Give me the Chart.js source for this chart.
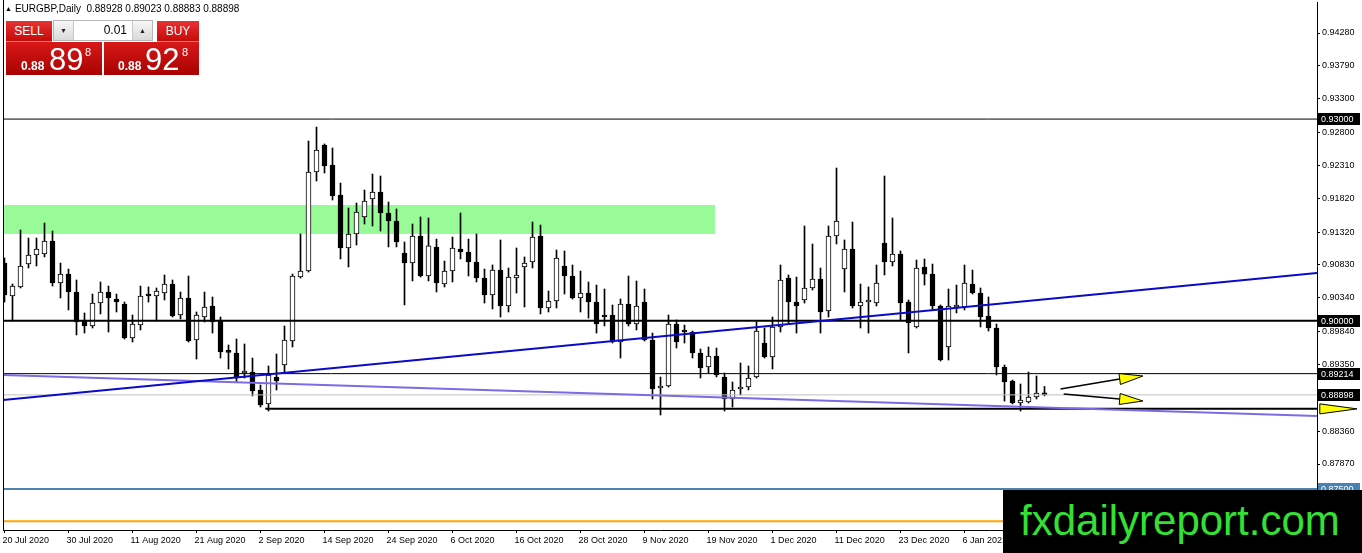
<!DOCTYPE html>
<html>
<head>
<meta charset="utf-8">
<script src="https://cdn.jsdelivr.net/npm/chart.js@4.4.0/dist/chart.umd.min.js"></script>
<style>
html, body { margin: 0; padding: 0; background: #fff; }
#wrap { position: relative; width: 1362px; height: 553px; overflow: hidden; font-family: 'Liberation Sans', Arial, sans-serif; }
#c { position: absolute; left: 0; top: 0; }
#hdr { position: absolute; left: 5px; top: 4px; font-size: 10px; line-height: 10px; color: #000; white-space: nowrap; }
#hdr .tri { font-size: 7px; margin-right: 3px; vertical-align: 1px; }
.btn { position: absolute; top: 21px; height: 20px; background: linear-gradient(#e83232, #c60a0a); color: #fff; font-size: 12px; line-height: 20px; text-align: center; border-bottom: 1px solid #f07a7a; }
#sell { left: 6px; width: 46px; }
#buy { left: 157px; width: 42px; }
#lot { position: absolute; left: 53px; top: 20px; width: 100px; height: 21px; background: #fff; border: 1px solid #b8b8b8; box-sizing: border-box; }
#lot .ar { position: absolute; top: 0; width: 19px; height: 19px; background: linear-gradient(#f6f6f6, #dadada); font-size: 7px; line-height: 19px; text-align: center; color: #222; }
#lot .dn { left: 0; border-right: 1px solid #c8c8c8; }
#lot .up { right: 0; border-left: 1px solid #c8c8c8; }
#lot .val { position: absolute; right: 25px; top: 0; font-size: 12px; line-height: 19px; color: #000; }
.px { position: absolute; top: 42px; height: 33px; background: linear-gradient(#d81818, #a80202); color: #fff; }
#sellpx { left: 6px; width: 96px; }
#buypx { left: 104px; width: 95px; }
.px span { position: absolute; line-height: 1; white-space: nowrap; }
.px .s { font-size: 12px; font-weight: bold; top: 18px; }
.px .b { font-size: 31px; top: 2px; }
.px .sup { font-size: 11px; top: 5px; }
#mark { position: absolute; left: 1003px; top: 490px; width: 359px; height: 63px; background: #000; }
#mark span { position: absolute; left: 17px; top: 10px; font-size: 42px; line-height: 1; color: #33e033; white-space: nowrap; }
</style>
</head>
<body>
<div id="wrap">
  <canvas id="c" width="1362" height="553"></canvas>
  <div id="hdr"><span class="tri">▲</span>EURGBP,Daily&nbsp; 0.88928 0.89023 0.88883 0.88898</div>
  <div class="btn" id="sell">SELL</div>
  <div id="lot"><div class="ar dn">▼</div><div class="val">0.01</div><div class="ar up">▲</div></div>
  <div class="btn" id="buy">BUY</div>
  <div class="px" id="sellpx"><span class="s" style="left:15px">0.88</span><span class="b" style="left:43px">89</span><span class="sup" style="left:79px">8</span></div>
  <div class="px" id="buypx"><span class="s" style="left:14px">0.88</span><span class="b" style="left:41px">92</span><span class="sup" style="left:78px">8</span></div>
  <div id="mark"><span>fxdailyreport.com</span></div>
</div>
<script>
// EURGBP daily, 20 Jul 2020 .. 20 Jan 2021 (one entry per bar)
const opens = [
  0.90859, 0.90369, 0.90503, 0.90844, 0.90979, 0.90993, 0.91187, 0.90562, 0.90695, 0.90428,
  0.89997, 0.89923, 0.90264, 0.90428, 0.90324, 0.90249, 0.89744, 0.89937, 0.90384, 0.90369,
  0.90413, 0.90547, 0.90086, 0.90339, 0.89714, 0.90056, 0.90220, 0.90012, 0.89536, 0.89521,
  0.89223, 0.89238, 0.88971, 0.88763, 0.89164, 0.89342, 0.89699, 0.90651, 0.90740, 0.92213,
  0.92615, 0.92317, 0.91871, 0.91083, 0.91291, 0.91544, 0.91811, 0.91915, 0.91603, 0.91484,
  0.91008, 0.90859, 0.91261, 0.90666, 0.91098, 0.90547, 0.90740, 0.91068, 0.91023, 0.90874,
  0.90636, 0.90384, 0.90755, 0.90220, 0.90636, 0.90800, 0.90874, 0.91261, 0.90190, 0.90294,
  0.90815, 0.90666, 0.90339, 0.90413, 0.90279, 0.90086, 0.90086, 0.89684, 0.90249, 0.89952,
  0.90279, 0.89714, 0.89001, 0.89030, 0.89952, 0.89848, 0.89833, 0.89521, 0.89313, 0.89476,
  0.89164, 0.88837, 0.88986, 0.89015, 0.89164, 0.89669, 0.89461, 0.89908, 0.90636, 0.90279,
  0.90309, 0.90488, 0.90621, 0.90146, 0.91261, 0.90770, 0.91068, 0.90220, 0.90279, 0.90264,
  0.91157, 0.90874, 0.90993, 0.90279, 0.89908, 0.90800, 0.90695, 0.90220, 0.89610, 0.90205,
  0.90205, 0.90547, 0.90413, 0.90071, 0.89893, 0.89313, 0.89105, 0.88778, 0.88792, 0.88867,
  0.88928
];
const highs = [
  0.90934, 0.90547, 0.91350, 0.91231, 0.91231, 0.91454, 0.91335, 0.90859, 0.90770, 0.90607,
  0.90116, 0.90398, 0.90577, 0.90517, 0.90398, 0.90279, 0.90086, 0.90517, 0.90503, 0.90488,
  0.90681, 0.90607, 0.90428, 0.90666, 0.90131, 0.90428, 0.90354, 0.90056, 0.89640, 0.89729,
  0.89655, 0.89446, 0.89045, 0.89328, 0.89506, 0.89923, 0.90695, 0.91291, 0.92674, 0.92882,
  0.92630, 0.92570, 0.92049, 0.91677, 0.91752, 0.91945, 0.92183, 0.92153, 0.91767, 0.91663,
  0.91172, 0.91439, 0.91544, 0.91529, 0.91216, 0.90889, 0.91246, 0.91603, 0.91216, 0.91291,
  0.90770, 0.90830, 0.91202, 0.90785, 0.91083, 0.90949, 0.91469, 0.91424, 0.90443, 0.91053,
  0.91038, 0.90830, 0.90740, 0.90577, 0.90532, 0.90473, 0.90235, 0.90324, 0.90666, 0.90592,
  0.90473, 0.89818, 0.89164, 0.90086, 0.90012, 0.89937, 0.89848, 0.89581, 0.89610, 0.89595,
  0.89223, 0.89090, 0.89372, 0.89328, 0.89982, 0.89893, 0.90056, 0.90830, 0.90681, 0.90651,
  0.91410, 0.91142, 0.90785, 0.91410, 0.92272, 0.91202, 0.91469, 0.90547, 0.90503, 0.90830,
  0.92153, 0.91529, 0.91038, 0.90309, 0.90904, 0.90919, 0.90844, 0.90235, 0.90473, 0.90532,
  0.90830, 0.90755, 0.90488, 0.90354, 0.89952, 0.89342, 0.89119, 0.89060, 0.89238, 0.89179,
  0.89023
];
const lows = [
  0.90279, 0.89997, 0.90488, 0.90785, 0.90815, 0.90949, 0.90517, 0.90339, 0.90161, 0.89789,
  0.89818, 0.89893, 0.90101, 0.89833, 0.90131, 0.89729, 0.89684, 0.89863, 0.90279, 0.89997,
  0.90309, 0.90056, 0.90027, 0.89684, 0.89431, 0.89982, 0.89818, 0.89446, 0.89283, 0.89090,
  0.89149, 0.88882, 0.88718, 0.88658, 0.88971, 0.89238, 0.89610, 0.90636, 0.90725, 0.92079,
  0.92198, 0.91796, 0.90919, 0.90800, 0.91127, 0.91439, 0.91410, 0.91335, 0.91098, 0.91098,
  0.90235, 0.90592, 0.90651, 0.90592, 0.90428, 0.90503, 0.90577, 0.90919, 0.90666, 0.90577,
  0.90264, 0.90176, 0.90056, 0.90131, 0.90413, 0.90205, 0.90785, 0.90101, 0.90131, 0.90190,
  0.90398, 0.90324, 0.90131, 0.90041, 0.89818, 0.89923, 0.89669, 0.89446, 0.89923, 0.89863,
  0.89699, 0.88837, 0.88599, 0.89015, 0.89595, 0.89669, 0.89446, 0.89149, 0.89223, 0.89164,
  0.88658, 0.88718, 0.88897, 0.88971, 0.89149, 0.89446, 0.89283, 0.89833, 0.89967, 0.89818,
  0.90264, 0.90458, 0.89818, 0.90056, 0.91142, 0.90428, 0.90190, 0.89893, 0.89818, 0.90220,
  0.90681, 0.90815, 0.90012, 0.89521, 0.89893, 0.90532, 0.90161, 0.89402, 0.89417, 0.90116,
  0.90161, 0.90398, 0.89908, 0.89848, 0.89194, 0.88807, 0.88763, 0.88658, 0.88778, 0.88837,
  0.88883
];
const closes = [
  0.90384, 0.90517, 0.90815, 0.90979, 0.91068, 0.91187, 0.90562, 0.90695, 0.90428, 0.89982,
  0.89923, 0.90264, 0.90428, 0.90339, 0.90279, 0.89744, 0.89952, 0.90369, 0.90369, 0.90443,
  0.90547, 0.90071, 0.90339, 0.89699, 0.90086, 0.90205, 0.89982, 0.89536, 0.89530, 0.89149,
  0.89253, 0.88956, 0.88748, 0.89194, 0.89105, 0.89714, 0.90666, 0.90740, 0.92213, 0.92540,
  0.92302, 0.91856, 0.91083, 0.91291, 0.91618, 0.91782, 0.91915, 0.91603, 0.91484, 0.91172,
  0.90859, 0.91261, 0.90666, 0.91113, 0.90562, 0.90740, 0.91083, 0.91023, 0.90874, 0.90636,
  0.90384, 0.90755, 0.90220, 0.90651, 0.90681, 0.90859, 0.91246, 0.90190, 0.90294, 0.90934,
  0.90666, 0.90339, 0.90413, 0.90279, 0.89952, 0.90056, 0.89684, 0.90249, 0.89952, 0.90220,
  0.89714, 0.88986, 0.89030, 0.89952, 0.89684, 0.89833, 0.89521, 0.89298, 0.89476, 0.89194,
  0.88837, 0.88971, 0.89001, 0.89149, 0.89848, 0.89461, 0.89908, 0.90607, 0.90279, 0.90220,
  0.90488, 0.90621, 0.90131, 0.91261, 0.91484, 0.91068, 0.90220, 0.90279, 0.90284, 0.90562,
  0.90874, 0.90993, 0.90264, 0.89967, 0.90785, 0.90695, 0.90220, 0.89417, 0.90220, 0.90235,
  0.90562, 0.90413, 0.90056, 0.89893, 0.89313, 0.89090, 0.88778, 0.88822, 0.88867, 0.88926,
  0.88898
];

// axis labels
const xTickLabels = ['20 Jul 2020', '30 Jul 2020', '11 Aug 2020', '21 Aug 2020', '2 Sep 2020', '14 Sep 2020',
  '24 Sep 2020', '6 Oct 2020', '16 Oct 2020', '28 Oct 2020', '9 Nov 2020', '19 Nov 2020', '1 Dec 2020',
  '11 Dec 2020', '23 Dec 2020', '6 Jan 2021', '18 Jan 2021'];
const xTickBars = [0, 8, 16, 24, 32, 40, 48, 56, 64, 72, 80, 88, 96, 104, 112, 120, 128];
const yTicks = [0.94280, 0.93790, 0.93300, 0.92800, 0.92310, 0.91820, 0.91320, 0.90830,
  0.90340, 0.89840, 0.89350, 0.88360, 0.87870];

// drawn objects (price levels, trend lines, zone, arrows)
const levelPrices = [0.93000, 0.90000, 0.89214, 0.88898, 0.87500, 0.87020];
const tagPrices = [0.93000, 0.90000, 0.89214, 0.88898, 0.87500];
const supportLine = [32.6, 0.88690];          // start bar, price
const blueTrend = [0.88822, 0.90711];         // price at left edge, right edge
const purpleTrend = [0.89194, 0.88584];
const zoneBand = [0.91291, 0.91722];
const zoneEndBar = 88.8;
const arrowUp = [[132.0, 0.88986], [139.4, 0.89134], [142.3, 0.89179]];   // start, head base, tip
const arrowDown = [[132.4, 0.88912], [139.4, 0.88837], [142.3, 0.88807]];

const X_MIN = -0.1875, X_MAX = 164.0625;
const Y_MIN = 0.868886, Y_MAX = 0.947411;

Chart.defaults.font.family = "'Liberation Sans', Arial, sans-serif";
Chart.defaults.color = '#000';

function seg(x0, y0, x1, y1) { return [{ x: x0, y: y0 }, { x: x1, y: y1 }]; }
function lineSet(data, color, width) {
  return { type: 'line', data: data, borderColor: color, borderWidth: width, pointRadius: 0, fill: false, tension: 0, order: 0 };
}

function drawArrow(ctx, x, y, pts, hw, withShaft) {
  const p = pts.map(q => [x.getPixelForValue(q[0]), y.getPixelForValue(q[1])]);
  const [s, b, t] = p;
  if (withShaft) {
    ctx.beginPath();
    ctx.moveTo(s[0], s[1]);
    ctx.lineTo(b[0], b[1]);
    ctx.strokeStyle = '#000';
    ctx.lineWidth = 1.5;
    ctx.stroke();
  }
  const dx = t[0] - b[0], dy = t[1] - b[1];
  const len = Math.sqrt(dx * dx + dy * dy);
  const nx = -dy / len * hw, ny = dx / len * hw;
  ctx.beginPath();
  ctx.moveTo(b[0] + nx, b[1] + ny);
  ctx.lineTo(t[0], t[1]);
  ctx.lineTo(b[0] - nx, b[1] - ny);
  ctx.closePath();
  ctx.fillStyle = '#ffff00';
  ctx.fill();
  ctx.strokeStyle = '#000';
  ctx.lineWidth = 1;
  ctx.stroke();
}

const overlay = {
  id: 'overlay',
  beforeDatasetsDraw(chart) {
    const { ctx, scales: { x, y } } = chart;
    ctx.save();
    ctx.fillStyle = '#98fb98';
    const x0 = x.getPixelForValue(X_MIN), x1 = x.getPixelForValue(zoneEndBar);
    const y0 = y.getPixelForValue(zoneBand[1]), y1 = y.getPixelForValue(zoneBand[0]);
    ctx.fillRect(x0, y0, x1 - x0, y1 - y0);
    ctx.restore();
  },
  afterDraw(chart) {
    const { ctx, chartArea, scales: { x, y } } = chart;
    ctx.save();
    // left frame line
    ctx.beginPath();
    ctx.moveTo(chartArea.left + 0.5, 0);
    ctx.lineTo(chartArea.left + 0.5, chartArea.bottom);
    ctx.strokeStyle = '#000';
    ctx.lineWidth = 1;
    ctx.stroke();

    drawArrow(ctx, x, y, arrowUp, 5.5, true);
    drawArrow(ctx, x, y, arrowDown, 5.5, true);
    drawArrow(ctx, x, y, [[X_MAX, supportLine[1]], [X_MAX + 0.35, supportLine[1]], [X_MAX + 5, supportLine[1]]], 5, false);

    // price tags on the axis
    ctx.font = "9px 'Liberation Sans', Arial, sans-serif";
    ctx.textBaseline = 'middle';
    ctx.textAlign = 'left';
    tagPrices.forEach(v => {
      const py = Math.round(y.getPixelForValue(v));
      ctx.fillStyle = v === 0.875 ? '#4682b4' : '#000';
      ctx.fillRect(chartArea.right + 1, py - 6, 42, 12);
      ctx.fillStyle = '#fff';
      ctx.fillText(v.toFixed(5), chartArea.right + 4, py + 0.5);
    });
    ctx.restore();
  }
};

new Chart(document.getElementById('c'), {
  type: 'bar',
  data: {
    datasets: [
      lineSet(seg(X_MIN, blueTrend[0], X_MAX, blueTrend[1]), '#0a0ac8', 2),
      lineSet(seg(X_MIN, purpleTrend[0], X_MAX, purpleTrend[1]), '#7b6be6', 2),
      lineSet(seg(X_MIN, levelPrices[0], X_MAX, levelPrices[0]), '#000', 1),
      lineSet(seg(X_MIN, levelPrices[1], X_MAX, levelPrices[1]), '#000', 2),
      lineSet(seg(X_MIN, levelPrices[2], X_MAX, levelPrices[2]), '#000', 1),
      lineSet(seg(X_MIN, levelPrices[3], X_MAX, levelPrices[3]), '#c0c0c0', 1),
      lineSet(seg(X_MIN, levelPrices[4], X_MAX, levelPrices[4]), '#4f81ad', 2),
      lineSet(seg(X_MIN, levelPrices[5], X_MAX, levelPrices[5]), '#ffa500', 2),
      lineSet(seg(supportLine[0], supportLine[1], X_MAX, supportLine[1]), '#000', 2),
      {
        // candle bodies
        type: 'bar',
        data: opens.map((o, i) => ({ x: i, y: [o, closes[i]] })),
        backgroundColor: opens.map((o, i) => closes[i] >= o ? '#fff' : '#000'),
        borderColor: '#000',
        borderWidth: 1,
        borderSkipped: false,
        barThickness: 5,
        minBarLength: 2,
        grouped: false,
        order: 2
      },
      {
        // wicks
        type: 'bar',
        data: highs.map((h, i) => ({ x: i, y: [lows[i], h] })),
        backgroundColor: '#000',
        borderWidth: 0,
        barThickness: 1,
        grouped: false,
        order: 3
      }
    ]
  },
  options: {
    responsive: false,
    animation: false,
    layout: { padding: { left: 3, top: 2, right: 0, bottom: 0 } },
    plugins: { legend: { display: false }, tooltip: { enabled: false } },
    scales: {
      x: {
        type: 'linear',
        min: X_MIN,
        max: X_MAX,
        offset: false,
        bounds: 'data',
        afterBuildTicks: s => { s.ticks = xTickBars.map(v => ({ value: v })); },
        afterFit: s => { s.height = 23; s.paddingLeft = 0; s.paddingRight = 0; },
        grid: { offset: false, drawOnChartArea: false, drawTicks: true, tickLength: 3, color: '#000' },
        border: { display: true, color: '#000', width: 1 },
        ticks: {
          autoSkip: false,
          maxRotation: 0,
          align: 'start',
          labelOffset: -2,
          padding: 2,
          font: { size: 9 },
          color: '#000',
          callback: v => xTickLabels[xTickBars.indexOf(v)]
        }
      },
      y: {
        type: 'linear',
        position: 'right',
        min: Y_MIN,
        max: Y_MAX,
        bounds: 'data',
        afterBuildTicks: s => { s.ticks = yTicks.map(v => ({ value: v })); },
        afterFit: s => { s.width = 45; s.paddingTop = 0; s.paddingBottom = 0; },
        grid: { drawOnChartArea: false, drawTicks: true, tickLength: 3, color: '#000' },
        border: { display: true, color: '#000', width: 1 },
        ticks: {
          autoSkip: false,
          padding: 2,
          font: { size: 9 },
          color: '#000',
          callback: v => Number(v).toFixed(5)
        }
      }
    }
  },
  plugins: [overlay]
});
</script>
</body>
</html>
